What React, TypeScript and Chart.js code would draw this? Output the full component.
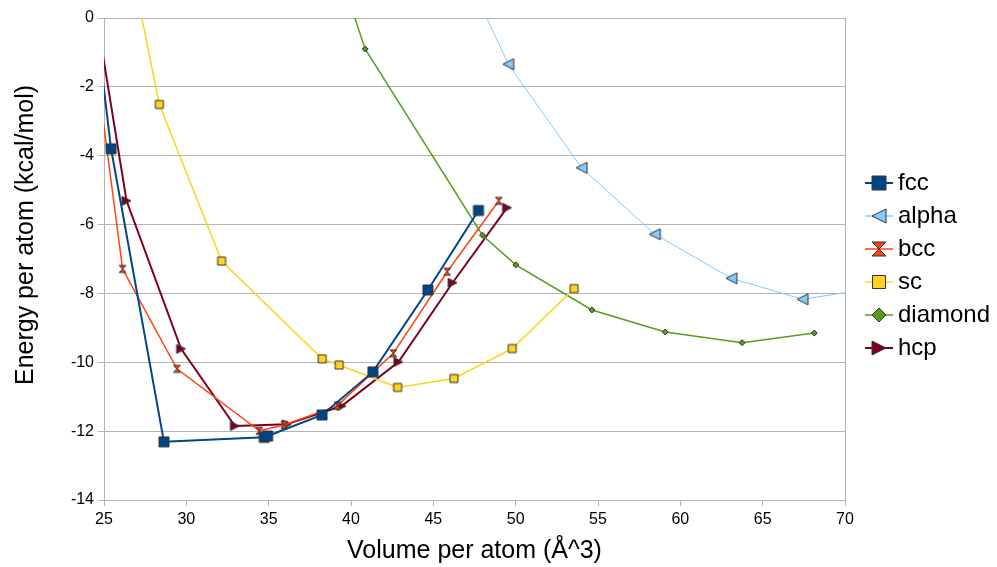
import React, { useEffect, useRef } from 'react';
import { Chart, registerables } from 'chart.js';

Chart.register(...registerables);

// ---- data ----
const seriesNames = ['fcc', 'alpha', 'bcc', 'sc', 'diamond', 'hcp'];

const fccVolume = [24.5, 25.43, 28.64, 34.73, 34.94, 38.24, 41.33, 44.67, 47.74];
const fccEnergy = [-0.1, -3.8, -12.31, -12.18, -12.14, -11.53, -10.28, -7.9, -5.59];

const alphaVolume = [46.0, 49.55, 54.0, 58.45, 63.1, 67.42, 72.0];
const alphaEnergy = [2.3, -1.34, -4.35, -6.28, -7.56, -8.17, -7.83];

const bccVolume = [24.6, 26.13, 29.43, 34.43, 35.95, 39.18, 42.57, 45.84, 48.98];
const bccEnergy = [-1.7, -7.29, -10.19, -11.99, -11.82, -11.26, -9.74, -7.37, -5.31];

const scVolume = [26.5, 28.36, 32.14, 38.25, 39.28, 42.83, 46.25, 49.79, 53.55];
const scEnergy = [1.9, -2.51, -7.06, -9.9, -10.08, -10.73, -10.47, -9.6, -7.86];

const diamondVolume = [39.5, 40.86, 47.98, 50.01, 54.63, 59.08, 63.75, 68.13];
const diamondEnergy = [1.05, -0.9, -6.31, -7.17, -8.48, -9.12, -9.43, -9.15];

const hcpVolume = [24.5, 26.37, 29.68, 32.95, 36.1, 39.43, 42.88, 46.17, 49.48];
const hcpEnergy = [0.2, -5.31, -9.61, -11.85, -11.8, -11.27, -9.99, -7.69, -5.51];

const xMin = 25;
const xMax = 70;
const xStep = 5;
const yMin = -14;
const yMax = 0;
const yStep = 2;

const xTitle = 'Volume per atom (Å^3)';
const yTitle = 'Energy per atom (kcal/mol)';

// ---- styles ----
const volumes = [fccVolume, alphaVolume, bccVolume, scVolume, diamondVolume, hcpVolume];
const energies = [fccEnergy, alphaEnergy, bccEnergy, scEnergy, diamondEnergy, hcpEnergy];
const colors = ['#004586', '#83caff', '#ff420e', '#ffd320', '#579d1c', '#7e0021'];
const lineWidths = [2, 1, 1.5, 1.5, 1.5, 2];
const shapes = ['square', 'triLeft', 'hourglass', 'square', 'diamond', 'triRight'];
const markerSizes = [10, 11, 7, 8, 6, 9];
const legendMarkerSizes = [14, 14, 14, 13, 14, 14];
const markerStroke = '#333333';
const FONT = "'Liberation Sans', Arial, sans-serif";

function shapePath(ctx: CanvasRenderingContext2D, shape: string, cx: number, cy: number, s: number) {
  ctx.beginPath();
  if (shape === 'square') {
    ctx.rect(cx - s, cy - s, 2 * s, 2 * s);
  } else if (shape === 'triLeft') {
    ctx.moveTo(cx - s, cy);
    ctx.lineTo(cx + s, cy - s);
    ctx.lineTo(cx + s, cy + s);
    ctx.closePath();
  } else if (shape === 'triRight') {
    ctx.moveTo(cx + s, cy);
    ctx.lineTo(cx - s, cy - s);
    ctx.lineTo(cx - s, cy + s);
    ctx.closePath();
  } else if (shape === 'hourglass') {
    ctx.moveTo(cx - s, cy - s);
    ctx.lineTo(cx + s, cy - s);
    ctx.lineTo(cx - s, cy + s);
    ctx.lineTo(cx + s, cy + s);
    ctx.closePath();
  } else if (shape === 'diamond') {
    ctx.moveTo(cx, cy - s);
    ctx.lineTo(cx + s, cy);
    ctx.lineTo(cx, cy + s);
    ctx.lineTo(cx - s, cy);
    ctx.closePath();
  }
}

function makeMarker(shape: string, size: number, fill: string): HTMLCanvasElement {
  const c = document.createElement('canvas');
  const W = size + 4;
  c.width = W;
  c.height = W;
  const ctx = c.getContext('2d')!;
  shapePath(ctx, shape, W / 2, W / 2, size / 2);
  ctx.fillStyle = fill;
  ctx.fill();
  ctx.strokeStyle = markerStroke;
  ctx.lineWidth = 1;
  ctx.stroke();
  return c;
}

function makeLegendSymbol(shape: string, size: number, fill: string, lw: number): HTMLCanvasElement {
  const c = document.createElement('canvas');
  c.width = 50;
  c.height = 26;
  const ctx = c.getContext('2d')!;
  const cy = 13;
  ctx.strokeStyle = fill;
  ctx.lineWidth = Math.max(1.5, lw);
  ctx.beginPath();
  ctx.moveTo(20, cy);
  ctx.lineTo(48, cy);
  ctx.stroke();
  shapePath(ctx, shape, 34, cy, size / 2);
  ctx.fillStyle = fill;
  ctx.fill();
  ctx.strokeStyle = markerStroke;
  ctx.lineWidth = 1;
  ctx.stroke();
  return c;
}

// y-axis title drawn slightly above the axis centre, as in the reference
const yTitlePlugin = {
  id: 'yTitleOffset',
  afterDraw(chart: any) {
    const ctx = chart.ctx as CanvasRenderingContext2D;
    const area = chart.chartArea;
    ctx.save();
    ctx.translate(26, (area.top + area.bottom) / 2 - 24);
    ctx.rotate(-Math.PI / 2);
    ctx.font = `25px ${FONT}`;
    ctx.fillStyle = '#000000';
    ctx.textAlign = 'center';
    ctx.textBaseline = 'middle';
    ctx.fillText(yTitle, 0, 0);
    ctx.restore();
  },
};

export default function App() {
  const ref = useRef<HTMLCanvasElement>(null);

  useEffect(() => {
    document.body.style.margin = '0';
    const markers = seriesNames.map((_, i) => makeMarker(shapes[i], markerSizes[i], colors[i]));
    const legendSymbols = seriesNames.map((_, i) =>
      makeLegendSymbol(shapes[i], legendMarkerSizes[i], colors[i], lineWidths[i])
    );

    const datasets = seriesNames.map((name, i) => ({
      label: name,
      data: volumes[i].map((v, j) => ({ x: v, y: energies[i][j] })),
      showLine: true,
      borderColor: colors[i],
      borderWidth: lineWidths[i],
      backgroundColor: colors[i],
      pointStyle: markers[i] as any,
      pointRadius: 4,
      pointHoverRadius: 4,
      tension: 0,
    }));

    const chart = new Chart(ref.current!, {
      type: 'scatter',
      data: { datasets },
      plugins: [yTitlePlugin],
      options: {
        animation: false,
        responsive: false,
        devicePixelRatio: 1,
        layout: { padding: { top: 18, left: 0, right: 0, bottom: 0 } },
        font: { family: FONT },
        plugins: {
          tooltip: { enabled: false },
          legend: {
            display: true,
            position: 'right',
            align: 'center',
            fullSize: false,
            maxWidth: 152,
            title: { display: true, text: ' ', font: { size: 1, lineHeight: 1 }, padding: 6 },
            labels: {
              usePointStyle: true,
              pointStyleWidth: 32,
              padding: 9,
              color: '#000000',
              font: { family: FONT, size: 24 },
              generateLabels: () =>
                seriesNames.map((name, i) => ({
                  text: name,
                  pointStyle: legendSymbols[i] as any,
                  datasetIndex: i,
                  hidden: false,
                  fillStyle: 'transparent',
                  strokeStyle: 'transparent',
                  lineWidth: 0,
                  fontColor: '#000000',
                })),
            },
          },
        },
        scales: {
          x: {
            type: 'linear',
            min: xMin,
            max: xMax,
            afterFit: (scale: any) => {
              scale.height = 67;
            },
            ticks: {
              stepSize: xStep,
              padding: 4,
              color: '#000000',
              font: { family: FONT, size: 16 },
              maxRotation: 0,
            },
            grid: {
              color: (ctx: any) => (ctx.tick && ctx.tick.value === xMax ? '#b3b3b3' : 'rgba(0,0,0,0)'),
              tickColor: '#b3b3b3',
              tickLength: 6,
              lineWidth: 1,
            },
            border: { display: true, color: '#b3b3b3' },
            title: {
              display: true,
              text: xTitle,
              color: '#000000',
              font: { family: FONT, size: 25 },
              padding: { top: 0, bottom: 1 },
            },
          },
          y: {
            type: 'linear',
            min: yMin,
            max: yMax,
            afterFit: (scale: any) => {
              scale.width = 104;
            },
            ticks: {
              stepSize: yStep,
              padding: 4,
              color: '#000000',
              font: { family: FONT, size: 16 },
            },
            grid: {
              color: '#b3b3b3',
              tickColor: '#b3b3b3',
              tickLength: 6,
              lineWidth: 1,
            },
            border: { display: true, color: '#b3b3b3' },
            title: { display: false, text: yTitle },
          },
        },
      } as any,
    });

    return () => chart.destroy();
  }, []);

  return (
    <div style={{ width: 997, height: 567 }}>
      <canvas ref={ref} width={997} height={567} style={{ display: 'block' }} />
    </div>
  );
}
